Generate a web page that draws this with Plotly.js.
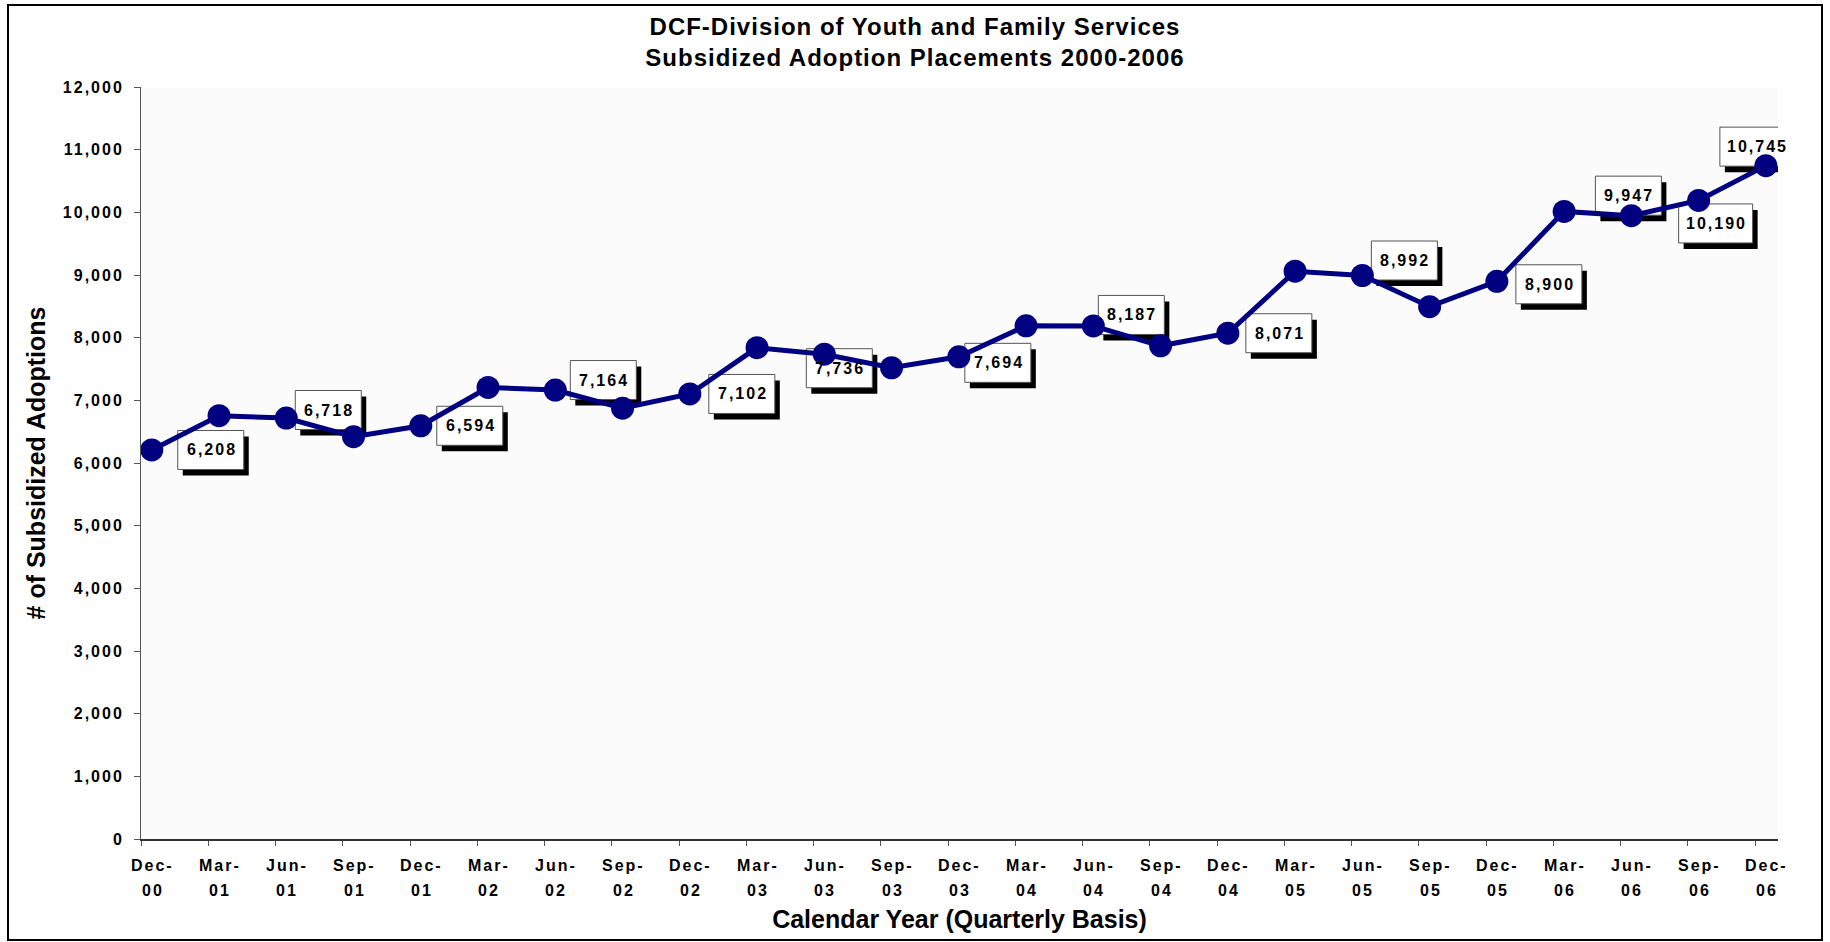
<!DOCTYPE html>
<html>
<head>
<meta charset="utf-8">
<script src="https://cdn.plot.ly/plotly-3.0.1.min.js"></script>
<style>
  html, body { margin: 0; padding: 0; background: #ffffff; }
  #chart { width: 1830px; height: 942px; }
  .ytick text, .annotation-text { letter-spacing: 2px; }
  .gtitle { letter-spacing: 1px; }
</style>
</head>
<body>
<div id="chart"></div>
<script>
// ---------------- data ----------------
const categories = ['Dec-00','Mar-01','Jun-01','Sep-01','Dec-01','Mar-02','Jun-02','Sep-02','Dec-02',
  'Mar-03','Jun-03','Sep-03','Dec-03','Mar-04','Jun-04','Sep-04','Dec-04',
  'Mar-05','Jun-05','Sep-05','Dec-05','Mar-06','Jun-06','Sep-06','Dec-06'];
const adoptions = [6208, 6755, 6718, 6420, 6594, 7205, 7164, 6875, 7102,
  7840, 7736, 7520, 7694, 8190, 8187, 7870, 8071,
  9060, 8992, 8495, 8900, 10015, 9947, 10190, 10745];
const labelledCategories = ['Dec-00','Jun-01','Dec-01','Jun-02','Dec-02','Jun-03','Dec-03',
  'Jun-04','Dec-04','Jun-05','Dec-05','Jun-06','Sep-06','Dec-06'];
const yTickValues = [0,1000,2000,3000,4000,5000,6000,7000,8000,9000,10000,11000,12000];

const chartTitle = 'DCF-Division of Youth and Family Services<br>Subsidized Adoption Placements 2000-2006';
const xTitle = 'Calendar Year (Quarterly Basis)';
const yTitle = '# of Subsidized Adoptions';

// ---------------- layout / style settings ----------------
const W = 1830, H = 942;
const M = { l: 141, r: 52, t: 87, b: 103 };
const plotW = W - M.l - M.r, plotH = H - M.t - M.b;
const xRange = [-0.16, 24.18];
const tickOffset = 0.16;
const FONT = 'Liberation Sans, Arial, Helvetica, sans-serif';
const NAVY = '#000080';
const tickFont = { family: FONT, size: 16, color: '#000000', weight: 'bold' };

// label box placement relative to its point (px, right / down)
const labelPlacement = {
  'Dec-00': [59, 0], 'Jun-01': [42, -8], 'Dec-01': [49, 0], 'Jun-02': [48, -10],
  'Dec-02': [52, 0], 'Jun-03': [15, 14], 'Dec-03': [39, 6], 'Jun-04': [38, -11],
  'Dec-04': [51, 0], 'Jun-05': [42, -15], 'Dec-05': [52, 3], 'Jun-06': [-3, -20],
  'Sep-06': [17, 23], 'Dec-06': [-9, -19]
};
const shadowDX = 5, shadowDY = 6;
const boxH = 39;
const monthRowShift = 26, yearRowShift = 51;

const idx = categories.map((c, i) => i);
const months = categories.map(c => c.split('-')[0] + '-');
const years = categories.map(c => c.split('-')[1]);
const fmt = v => v.toLocaleString('en-US');

const trace = {
  type: 'scatter',
  mode: 'lines+markers',
  x: idx,
  y: adoptions,
  text: categories,
  line: { color: NAVY, width: 5 },
  marker: { color: NAVY, size: 23 },
  cliponaxis: false,
  hoverinfo: 'text+y',
  showlegend: false
};

const shapes = [];
const annotations = [];
labelledCategories.forEach(cat => {
  const i = categories.indexOf(cat);
  const v = adoptions[i];
  const txt = fmt(v);
  const bw = txt.length > 5 ? 74 : 66;
  const [dx, dy] = labelPlacement[cat];
  const base = {
    type: 'rect', layer: 'between', xref: 'x', yref: 'y',
    xsizemode: 'pixel', ysizemode: 'pixel', xanchor: i, yanchor: v
  };
  shapes.push(Object.assign({}, base, {
    x0: dx - bw / 2 + shadowDX, x1: dx + bw / 2 + shadowDX,
    y0: -dy - boxH / 2 - shadowDY, y1: -dy + boxH / 2 - shadowDY,
    fillcolor: '#000000', line: { width: 0 }
  }));
  shapes.push(Object.assign({}, base, {
    x0: dx - bw / 2, x1: dx + bw / 2,
    y0: -dy - boxH / 2, y1: -dy + boxH / 2,
    fillcolor: '#ffffff', line: { color: '#555555', width: 1 }
  }));
  annotations.push({
    xref: 'x', yref: 'y', x: i, y: v, text: txt, showarrow: false,
    xanchor: 'center', yanchor: 'middle',
    xshift: dx + 1, yshift: -dy,
    font: { family: FONT, size: 16, color: '#000000', weight: 'bold' }
  });
});

// two-row category labels under the axis
categories.forEach((c, i) => {
  annotations.push({
    xref: 'x', yref: 'paper', x: i, y: 0, text: months[i], showarrow: false,
    xanchor: 'center', yanchor: 'middle', xshift: 1, yshift: -monthRowShift, font: tickFont
  });
  annotations.push({
    xref: 'x', yref: 'paper', x: i, y: 0, text: years[i], showarrow: false,
    xanchor: 'center', yanchor: 'middle', xshift: 1, yshift: -yearRowShift, font: tickFont
  });
});

// outer frame
const px2paperX = px => (px - M.l) / plotW;
const px2paperY = py => (H - M.b - py) / plotH;
shapes.push({
  type: 'rect', xref: 'paper', yref: 'paper', layer: 'above',
  x0: px2paperX(8), x1: px2paperX(1822), y0: px2paperY(940), y1: px2paperY(5),
  line: { color: '#000000', width: 2 }, fillcolor: 'rgba(0,0,0,0)'
});

const layout = {
  width: W, height: H,
  margin: M,
  paper_bgcolor: '#ffffff',
  plot_bgcolor: '#fbfbfb',
  font: { family: FONT, color: '#000000' },
  title: {
    text: chartTitle,
    font: { family: FONT, size: 24, color: '#000000', weight: 'bold' },
    x: 0.5, xref: 'container', xanchor: 'center',
    y: 1 - 35 / H, yref: 'container', yanchor: 'top'
  },
  xaxis: {
    type: 'linear', range: xRange,
    tickvals: idx.map(i => i - tickOffset), showticklabels: false,
    ticks: 'outside', ticklen: 5, tickcolor: '#555555', tickwidth: 1,
    showline: true, linecolor: '#333333', linewidth: 1.5,
    showgrid: false, zeroline: false,
    title: { text: xTitle, standoff: 66,
             font: { family: FONT, size: 25, color: '#000000', weight: 'bold' } }
  },
  yaxis: {
    range: [0, 12000],
    tickvals: yTickValues, tickformat: ',d',
    ticks: 'outside', ticklen: 6, tickcolor: '#555555', tickwidth: 1,
    ticklabelstandoff: 7,
    tickfont: tickFont,
    showline: true, linecolor: '#555555', linewidth: 1,
    showgrid: false, zeroline: false,
    title: { text: yTitle, standoff: 10,
             font: { family: FONT, size: 25, color: '#000000', weight: 'bold' } }
  },
  yaxis2: {
    range: [0, 12000], overlaying: 'y', anchor: 'x', side: 'left',
    tickvals: yTickValues.slice(1, -1), showticklabels: false, ticks: '',
    showgrid: true, gridcolor: '#5a5a5a', gridwidth: 1,
    showline: false, zeroline: false
  },
  shapes: shapes,
  annotations: annotations,
  showlegend: false,
  hovermode: 'closest'
};

Plotly.newPlot('chart', [trace], layout, { displayModeBar: false });
</script>
</body>
</html>
